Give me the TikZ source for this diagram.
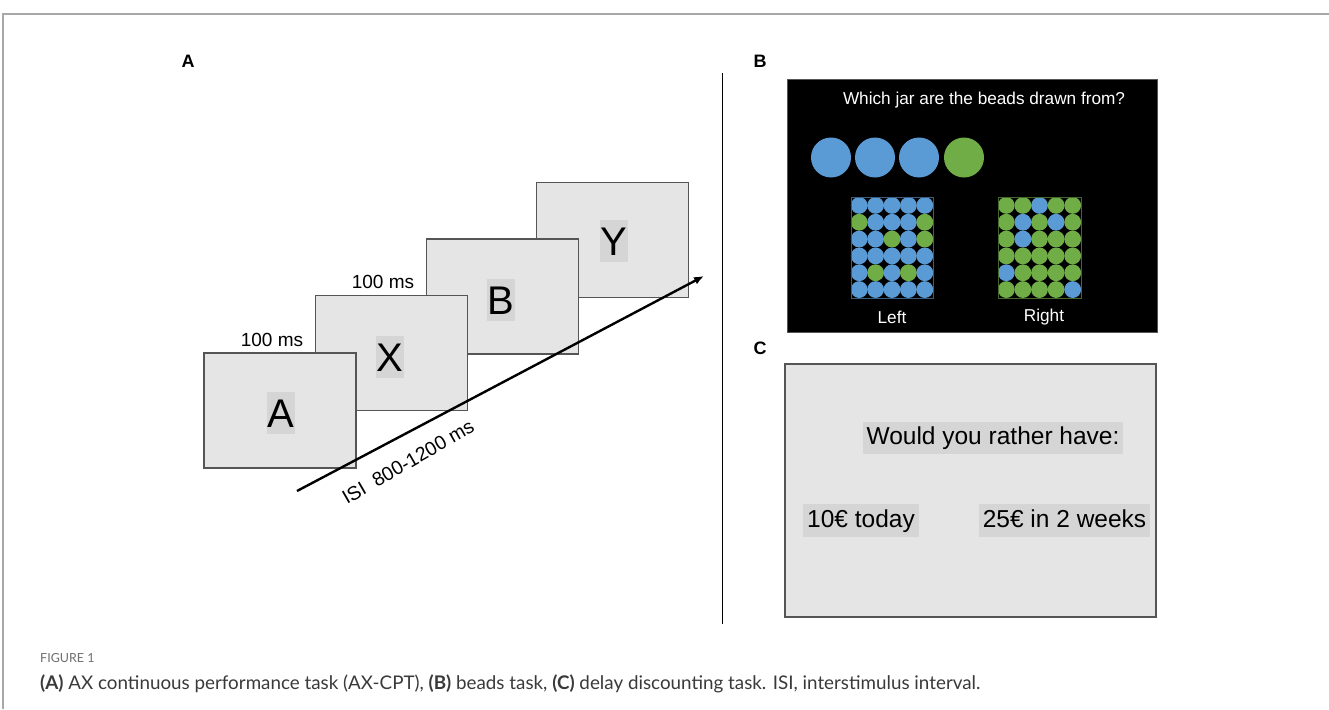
\documentclass[tikz,border=0pt]{standalone}
\usepackage{fontspec}
\setmainfont{Liberation Sans}
\newfontfamily\capfont{Lato}
\usetikzlibrary{arrows.meta}
\definecolor{scr}{HTML}{E6E5E6}
\definecolor{hl}{HTML}{D5D5D5}
\definecolor{cb}{HTML}{5B9BD5}
\definecolor{cg}{HTML}{70AD47}
\definecolor{framegray}{HTML}{A8A8A8}
\definecolor{capgray}{HTML}{707070}
\definecolor{captext}{HTML}{3A3A3A}
\definecolor{edgegray}{HTML}{555555}
\begin{document}
\begin{tikzpicture}[x=1pt,y=-1pt,
  screen/.style={draw=edgegray, line width=1.1pt, fill=scr, minimum width=152pt, minimum height=115pt, inner sep=0pt},
  letter/.style={fill=hl, font=\fontsize{40}{40}\selectfont, minimum width=28pt, minimum height=42pt, inner sep=0pt, text height=29pt, text depth=0pt},
  timelbl/.style={font=\fontsize{19}{19}\selectfont, inner sep=0pt},
  panel/.style={font=\fontsize{18}{18}\selectfont\bfseries, inner sep=0pt},
  choice/.style={fill=hl, font=\fontsize{24.5}{24.5}\selectfont, minimum height=33pt, inner sep=0pt, text height=18pt, text depth=5pt},
  whitetxt/.style={text=white, font=\fontsize{17.2}{17.2}\selectfont, inner sep=0pt},
  frameline/.style={draw=framegray, line width=1.2pt}
]
\useasboundingbox (0,0) rectangle (1329,709);
\fill[white] (0,0) rectangle (1329,709);
% outer frame
\coordinate (f1) at (3,709);
\coordinate (f2) at (3,14);
\coordinate (f3) at (1329,14);
\draw[frameline] (f1) -- (f2) -- (f3);

% panel labels
\node[panel] (lblA) at (188,61) {A};
\node[panel] (lblB) at (760,61) {B};
\node[panel] (lblC) at (760,348) {C};

% panel A screens
\node[screen] (scrY) at (612.5,240) {};
\node[screen] (scrB) at (502.5,296.5) {};
\node[screen] (scrX) at (391.5,353) {};
\node[screen] (scrA) at (280,410.5) {};
\node[letter] (ltY) at (614,241) {Y};
\node[letter] (ltB) at (501,300) {B};
\node[letter] (ltX) at (390,357) {X};
\node[letter] (ltA) at (281,413) {A};
\node[timelbl] (t1) at (272,340) {100 ms};
\node[timelbl] (t2) at (383,282) {100 ms};

% time arrow
\coordinate (arS) at (297,491);
\coordinate (arE) at (704,276);
\draw[line width=2.4pt, -{Latex[length=10pt,width=8pt]}] (arS) -- (arE);
\node[timelbl, rotate=30, font=\fontsize{19.5}{19.5}\selectfont] (isi) at (408,462) {ISI\ \ 800-1200 ms};

% divider
\coordinate (d1) at (722,73);
\coordinate (d2) at (722,624);
\draw[line width=1pt] (d1) -- (d2);

% panel B
\fill[black] (787,79) rectangle (1157,332);
\draw[edgegray, line width=0.8pt] (787,79) rectangle (1157,332);
\node[whitetxt] (q) at (984,100) {Which jar are the beads drawn from?};
\foreach \x/\c in {831/cb,875/cb,919/cb,964/cg}
  \fill[\c] (\x,157.5) circle (20);
% left jar
\foreach \row [count=\j from 0] in {{b,b,b,b,b},{g,b,b,b,g},{b,b,g,b,g},{b,b,b,b,b},{b,g,b,g,b},{b,b,b,b,b}}
  \foreach \c [count=\i from 0] in \row
    \fill[c\c] ({851+(\i+0.5)*16.4},{197+(\j+0.5)*16.83}) circle (8.4);
\draw[cb!60!black, line width=0.8pt] (851,197) rectangle (933,298);
% right jar
\foreach \row [count=\j from 0] in {{g,g,b,g,g},{g,b,g,b,g},{g,b,g,g,g},{g,g,g,g,g},{b,g,g,g,g},{g,g,g,g,b}}
  \foreach \c [count=\i from 0] in \row
    \fill[c\c] ({998+(\i+0.5)*16.6},{197+(\j+0.5)*16.83}) circle (8.4);
\draw[cg!60!black, line width=0.8pt] (998,197) rectangle (1081,298);
\node[whitetxt] (left) at (892,317) {Left};
\node[whitetxt] (right) at (1044,317) {Right};

% panel C
\fill[scr] (785,364) rectangle (1156,617);
\draw[edgegray, line width=1.1pt] (785,364) rectangle (1156,617);
\node[choice, minimum width=260pt, minimum height=32pt] (ask) at (993,438) {Would you rather have:};
\node[choice, minimum width=116pt] (now) at (861,520.5) {10€ today};
\node[choice, minimum width=171pt] (later) at (1064.5,520.5) {25€ in 2 weeks};

% caption
\node[anchor=base west, inner sep=0pt, text=capgray, font=\capfont\fontsize{12.5}{12.5}\selectfont] (fig) at (40,662) {FIGURE 1};
\node[anchor=base west, inner sep=0pt, text=captext, font=\capfont\fontsize{18.8}{18.8}\selectfont] (cap) at (40,689)
  {\textbf{(A)} AX continuous performance task (AX-CPT), \textbf{(B)} beads task, \textbf{(C)} delay discounting task. ISI, interstimulus interval.};
\end{tikzpicture}
\end{document}
